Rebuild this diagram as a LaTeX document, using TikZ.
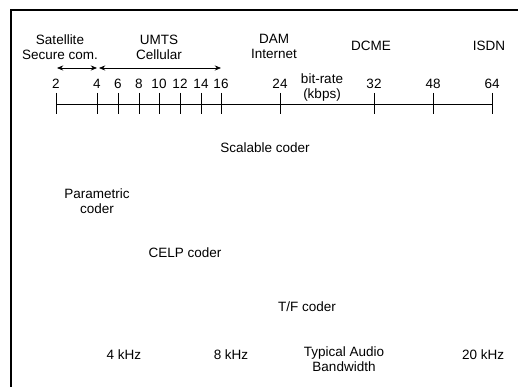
\documentclass[tikz,border=0pt]{standalone}
\usepackage{fontspec}
\setmainfont{Liberation Sans}
\usetikzlibrary{arrows.meta, positioning}

\begin{document}
\begin{tikzpicture}[
  x=1pt, y=-1pt,
  txt/.style={font=\fontsize{13.5}{15}\selectfont, align=center, inner sep=0pt},
  frame/.style={line width=1.1pt},
  axis/.style={line width=0.8pt},
  spanarrow/.style={{Stealth[length=2.2mm,width=1.8mm]}-{Stealth[length=2.2mm,width=1.8mm]}, line width=0.8pt}
]
\useasboundingbox (0,0) rectangle (518,387);

% Frame
\coordinate (topleft) at (11,10);
\coordinate (topright) at (518,10);
\coordinate (bottomleft) at (11,387);
\draw[frame] (topright) -- (topleft) -- (bottomleft);

% Bit-rate axis
\foreach \v/\x in {2/56, 4/97, 6/118, 8/139, 10/159, 12/180, 14/201, 16/221, 24/280, 32/374, 48/433, 64/492} {
  \coordinate (t\v) at (\x,104);
  \draw[axis] (\x,93) -- (\x,114);
  \node[txt] (n\v) at (\x,84) {\v};
}
\draw[axis] (t2) -- (t64);
\node[txt] (rate) at (322,88) {bit-rate\\(kbps)};

% Applications
\node[txt] (sat) at (60,47) {Satellite\\Secure com.};
\node[txt] (umts) at (159,47) {UMTS\\Cellular};
\node[txt] (dam) at (274,46) {DAM\\Internet};
\node[txt] (dcme) at (371,46) {DCME};
\node[txt] (isdn) at (489,46) {ISDN};

\coordinate (a2) at (57,68);
\coordinate (a4) at (97,68);
\coordinate (b4) at (99,68);
\coordinate (b16) at (221,68);
\draw[spanarrow] (a2) -- (a4);
\draw[spanarrow] (b4) -- (b16);

% Coders
\node[txt] (scalable) at (265,148) {Scalable coder};
\node[txt] (param) at (97,201) {Parametric\\coder};
\node[txt] (celp) at (185,253) {CELP coder};
\node[txt] (tf) at (307,307) {T/F coder};

% Bandwidths
\node[txt] (bw4) at (124,355) {4 kHz};
\node[txt] (bw8) at (231,355) {8 kHz};
\node[txt] (bw) at (344,359) {Typical Audio\\Bandwidth};
\node[txt] (bw20) at (483,355) {20 kHz};

\end{tikzpicture}
\end{document}
